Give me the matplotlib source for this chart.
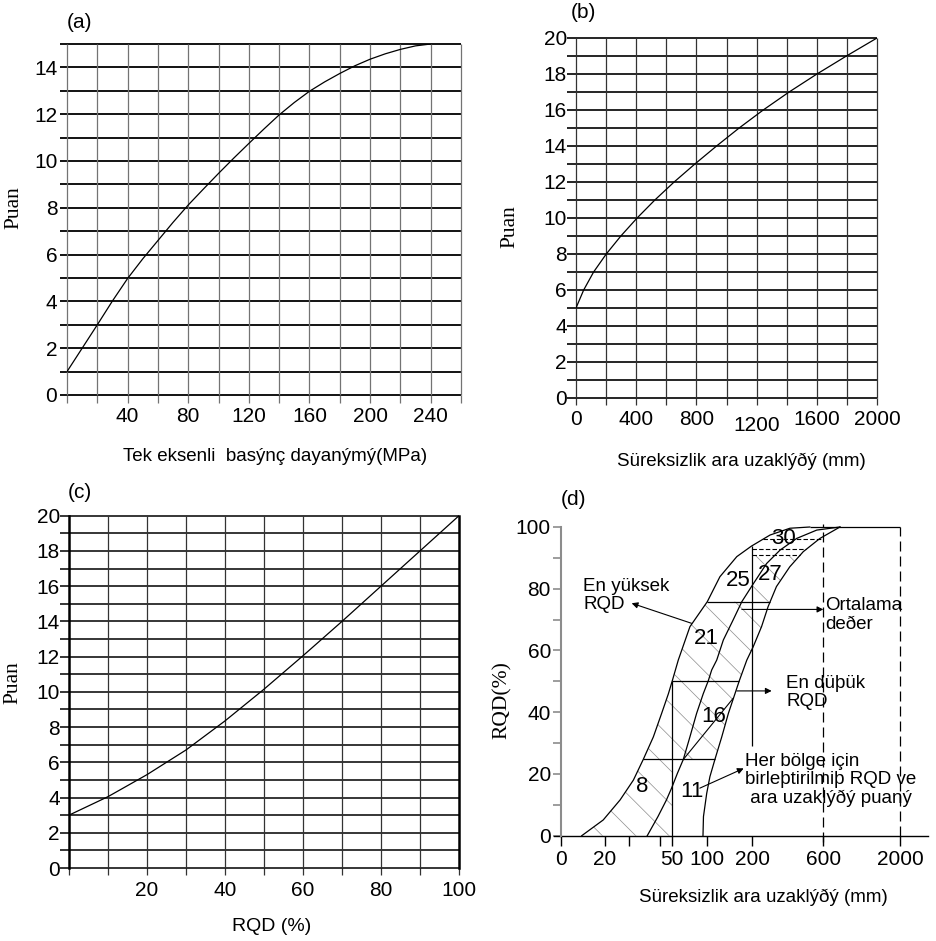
"""
RMR puan abaklari: (a) UCS, (b) sureksizlik ara uzakligi, (c) RQD, (d) RQD + ara uzaklik
"""
import numpy as np
import matplotlib
matplotlib.use('Agg')
import matplotlib.pyplot as plt
from matplotlib.transforms import ScaledTranslation

plt.rcParams['font.family'] = ['Liberation Sans', 'DejaVu Sans']
plt.rcParams['font.size'] = 15
plt.rcParams['hatch.linewidth'] = 0.5

# (a) tek eksenli basinc dayanimi -> puan
ucs_mpa = [0, 10, 20, 30, 40, 50, 60, 70, 80, 90, 100, 110, 120,
           130, 140, 150, 160, 170, 180, 190, 200, 210, 220, 230, 240]
ucs_puan = [1, 2, 3, 4.02, 4.98, 5.82, 6.6, 7.38, 8.12, 8.8, 9.47, 10.12, 10.75,
            11.37, 11.97, 12.5, 12.98, 13.38, 13.74, 14.07, 14.35, 14.58, 14.77, 14.92, 15]

# (b) sureksizlik ara uzakligi -> puan
spacing_mm = [0, 51, 117, 201, 298, 406, 524, 652, 790, 934, 1084, 1244, 1416, 1601, 1797, 2000]
spacing_puan = [5, 6, 7, 8, 9, 10, 11, 12, 13, 14, 15, 16, 17, 18, 19, 20]

# (c) RQD -> puan
rqd_pct = [0, 10, 20, 30, 40, 50, 60, 70, 80, 90, 100]
rqd_puan = [3, 4.05, 5.3, 6.7, 8.35, 10.15, 12.05, 14, 16, 18, 20]

# (d) en yuksek / ortalama / en dusuk RQD egrileri (mm, %)
hi_mm = [9.5, 19.2, 26.3, 32.3, 37.5, 42.2, 45.6, 48.4, 50, 58.7, 75.6, 101.3, 129, 166, 198, 300, 412, 524]
hi_rqd = [0, 5.1, 11.6, 18, 24.7, 32, 39.6, 46, 50.2, 56.9, 67.7, 75.8, 83.9, 90.4, 93.8, 97.4, 99.6, 100]
avg_mm = [39.6, 44.1, 47.6, 49.7, 57.4, 66, 75.6, 85.3, 95, 103.5, 111, 122, 136.5,
          158, 177, 201, 281, 356, 450, 563, 904]
avg_rqd = [0, 6.2, 11.6, 15.4, 20.2, 24.7, 32, 39.6, 46, 50.2, 53.7, 56.9, 63.4,
           69.9, 75.8, 81.2, 88.2, 92.5, 96.3, 99, 100]
lo_mm = [94.6, 95.3, 100, 107, 118, 133, 147.5, 162, 171.5, 188, 205, 252, 289, 336, 411, 487, 581, 904]
lo_rqd = [0, 6.2, 13.7, 19.1, 24.7, 32, 39.6, 46, 50.2, 56.9, 61.2, 67.7, 74.2, 80.7, 87.1, 92, 96.3, 100]

band_rqd = [24.7, 50.2, 75.8]          # bolge sinirlari
dash_rqd = [96.1, 92.8, 90.9]          # ust bolgedeki kesikli cizgiler

region_txt = ['8', '11', '16', '21', '25', '27', '30']
region_mm = [36.7, 78, 114.5, 100, 169, 300, 375]
region_rqd = [15.9, 14.3, 38.5, 64, 82.8, 84.5, 96.3]

# (d) x ekseni bozuk olcekli: mm -> eksen konumu
d_mm = [0, 20, 30, 40, 50, 100, 200, 600, 2000, 3000]
d_pos = [0, 44.3, 68.3, 87.3, 111.6, 146, 191.6, 262.6, 339.3, 367.3]

W, H = 936, 941


def box(l, t, r, b):
    return [l / W, 1 - b / H, (r - l) / W, (b - t) / H]


def fwd(v):
    return np.interp(v, d_mm, d_pos)


def inv(p):
    return np.interp(p, d_pos, d_mm)


def x_at(mm, rqd, r):
    return inv(np.interp(r, rqd, fwd(np.asarray(mm, float))))


def seg(mm, rqd, r0, r1):
    mm = np.asarray(mm, float)
    rqd = np.asarray(rqd, float)
    m = (rqd > r0) & (rqd < r1)
    xs = np.concatenate([[x_at(mm, rqd, r0)], mm[m], [x_at(mm, rqd, r1)]])
    ys = np.concatenate([[r0], rqd[m], [r1]])
    return xs, ys


def clean(ax):
    for s in ax.spines.values():
        s.set_visible(False)


fig = plt.figure(figsize=(W / 100, H / 100), dpi=100)
serif = dict(family='Liberation Serif', fontsize=15.5)

# ---------- (a)
ax = fig.add_axes(box(67, 44, 461, 395))
clean(ax)
ax.set_xlim(0, 260)
ax.set_ylim(0, 15)
ax.hlines(np.arange(16), 0, 260, color='k', lw=1.3, clip_on=False)
ax.vlines(np.arange(0, 261, 20), 0, 15, color='0.45', lw=0.9, clip_on=False)
ax.plot(ucs_mpa, ucs_puan, color='k', lw=0.9)
ax.set_xticks(np.arange(40, 241, 40))
ax.set_xticks(np.arange(0, 261, 20), minor=True)
ax.set_yticks(np.arange(0, 15, 2))
ax.set_yticks(np.arange(16), minor=True)
ax.tick_params(axis='y', which='both', length=5, width=1.3, color='k', pad=2)
ax.tick_params(axis='x', which='both', length=6, width=0.9, color='0.45', pad=3)
ax.set_ylabel('Puan', **serif)
ax.yaxis.set_label_coords(-0.11, 0.533)
ax.set_xlabel('Tek eksenli  basýnç dayanýmý(MPa)', fontsize=13.5)
ax.xaxis.set_label_coords(0.528, -0.151)
fig.text(80 / W, 1 - 23 / H, '(a)', ha='center', va='center')

# ---------- (b)
ax = fig.add_axes(box(576, 38, 877, 398))
clean(ax)
ax.set_xlim(0, 2000)
ax.set_ylim(0, 20)
ax.hlines(np.arange(21), 0, 2000, color='k', lw=1.2, clip_on=False)
ax.vlines(np.arange(0, 2001, 200), 0, 20, color='0.2', lw=0.9, clip_on=False)
ax.plot(spacing_mm, spacing_puan, color='k', lw=0.9)
ax.set_xticks(np.arange(0, 2001, 400))
ax.set_xticks(np.arange(0, 2001, 200), minor=True)
ax.set_yticks(np.arange(0, 21, 2))
ax.set_yticks(np.arange(21), minor=True)
ax.tick_params(axis='y', which='both', length=6.5, width=1.2, color='k', pad=0)
ax.tick_params(axis='x', which='both', length=5, width=0.9, color='0.2', pad=4)
for lbl in ax.get_xticklabels():
    if lbl.get_text() == '1200':
        lbl.set_transform(lbl.get_transform() + ScaledTranslation(0, -4 / 72, fig.dpi_scale_trans))
ax.set_ylabel('Puan', **serif)
ax.yaxis.set_label_coords(-0.189, 0.475)
ax.set_xlabel('Süreksizlik ara uzaklýðý (mm)', fontsize=13.5)
ax.xaxis.set_label_coords(0.548, -0.153)
fig.text(583 / W, 1 - 13 / H, '(b)', ha='center', va='center')

# ---------- (c)
ax = fig.add_axes(box(69, 515.7, 459, 868))
clean(ax)
for side in ['left', 'right']:
    ax.spines[side].set_visible(True)
    ax.spines[side].set_linewidth(1.8)
ax.set_xlim(0, 100)
ax.set_ylim(0, 20)
ax.hlines(np.arange(21), 0, 100, color='k', lw=1.1, clip_on=False)
ax.vlines(np.arange(10, 100, 10), 0, 20, color='0.2', lw=0.9)
ax.plot(rqd_pct, rqd_puan, color='k', lw=0.9)
ax.set_xticks(np.arange(20, 101, 20))
ax.set_xticks(np.arange(0, 101, 10), minor=True)
ax.set_yticks(np.arange(0, 21, 2))
ax.set_yticks(np.arange(21), minor=True)
ax.tick_params(axis='y', which='both', length=6.5, width=1.1, color='k', pad=0)
ax.tick_params(axis='x', which='both', length=5, width=0.9, color='0.2', pad=4)
ax.set_ylabel('Puan', **serif)
ax.yaxis.set_label_coords(-0.12, 0.525)
ax.set_xlabel('RQD (%)', fontsize=14)
ax.xaxis.set_label_coords(0.52, -0.142)
fig.text(80 / W, 1 - 492 / H, '(c)', ha='center', va='center')

# ---------- (d)
ax = fig.add_axes(box(560.7, 527, 928, 835.7))
ax.set_xscale('function', functions=(fwd, inv))
ax.set_xlim(0, 3000)
ax.set_ylim(0, 100)
clean(ax)
ax.spines['left'].set_visible(True)
ax.spines['left'].set_color('0.55')
ax.spines['left'].set_linewidth(1.5)
ax.axhline(0, xmin=-0.017, xmax=1, color='k', lw=1.0, clip_on=False)

r25, r50, r75 = band_rqd
top200 = np.interp(fwd(200), fwd(np.asarray(hi_mm)), hi_rqd)

# taranmis bolgeler
hatch_kw = dict(facecolor='none', edgecolor='0.55', hatch='\\', linewidth=0)
xs, ys = seg(hi_mm, hi_rqd, 0, r25)
ax.fill(np.r_[xs, 50, 50], np.r_[ys, r25, 0], **hatch_kw)
xs, ys = seg(hi_mm, hi_rqd, r25, r75)
xr, yr = seg(lo_mm, lo_rqd, r25, r75)
ax.fill(np.r_[xs, xr[::-1]], np.r_[ys, yr[::-1]], **hatch_kw)
xr, yr = seg(lo_mm, lo_rqd, r75, dash_rqd[2])
ax.fill(np.r_[200, xr[::-1], 200], np.r_[dash_rqd[2], yr[::-1], r75], **hatch_kw)

for mm, r in [(hi_mm, hi_rqd), (avg_mm, avg_rqd), (lo_mm, lo_rqd)]:
    ax.plot(mm, r, color='k', lw=0.9, clip_on=False)

ax.hlines(100, hi_mm[-1], 2000, color='k', lw=0.9, clip_on=False)
ax.hlines(r25, x_at(hi_mm, hi_rqd, r25), x_at(lo_mm, lo_rqd, r25), color='k', lw=0.9)
ax.hlines(r50, 50, x_at(lo_mm, lo_rqd, r50), color='k', lw=0.9)
ax.hlines(r75, x_at(hi_mm, hi_rqd, r75), x_at(lo_mm, lo_rqd, r75), color='k', lw=0.9)
ax.vlines(50, 0, r50, color='k', lw=0.9)
ax.vlines(200, 29, top200, color='k', lw=0.9)
ax.vlines(600, -2, 101, color='k', lw=0.9, linestyles=(0, (8, 4)), clip_on=False)
ax.vlines(2000, 0, 100, color='k', lw=0.9, linestyles=(0, (8, 4)))
dash_kw = dict(color='k', lw=0.8, linestyles=(0, (4, 2)))
ax.hlines(dash_rqd[0], x_at(hi_mm, hi_rqd, dash_rqd[0]), 600, **dash_kw)
ax.hlines(dash_rqd[1], 200, x_at(lo_mm, lo_rqd, dash_rqd[1]), **dash_kw)
ax.hlines(dash_rqd[2], 200, x_at(lo_mm, lo_rqd, dash_rqd[2]), **dash_kw)
ax.plot([66, 158], [24.7, 44.5], color='k', lw=0.8)

arr = dict(arrowstyle='-|>', color='k', lw=0.8, mutation_scale=9, shrinkA=0, shrinkB=0)
ax.annotate('', xy=(31.4, 75.3), xytext=(78, 68.8), arrowprops=arr)
ax.annotate('', xy=(600, 73.3), xytext=(177, 73.3), arrowprops=arr)
ax.annotate('', xy=(309, 46.9), xytext=(166, 46.9), arrowprops=arr)
ax.annotate('', xy=(181, 21.8), xytext=(90, 15.4), arrowprops=arr)

txt = dict(ha='left', va='center', linespacing=1.1, fontsize=13.5)
ax.text(10.2, 77.8, 'En yüksek\nRQD', **txt)
ax.text(631, 71.5, 'Ortalama\ndeðer', **txt)
ax.text(390, 46.4, 'En düþük\nRQD', **txt)
ax.text(184, 18, 'Her bölge için\nbirleþtirilmiþ RQD ve\n ara uzaklýðý puaný', **txt)
for t, mm, r in zip(region_txt, region_mm, region_rqd):
    ax.text(mm, r, t, ha='center', va='center', fontsize=16)

ax.set_xticks([0, 20, 50, 100, 200, 600, 2000])
ax.set_xticklabels(['0', '20', '50', '100', '200', '600', '2000'])
ax.set_xticks([30, 45], minor=True)
ax.set_yticks(np.arange(0, 101, 20))
ax.set_yticks(np.arange(0, 101, 10), minor=True)
ax.tick_params(axis='x', which='both', length=7, width=1.0, color='k', pad=3)
ax.tick_params(axis='y', which='both', length=6, width=1.2, color='0.55', pad=1)
ax.set_ylabel('RQD(%)', **serif)
ax.yaxis.set_label_coords(-0.133, 0.44)
ax.set_xlabel('Süreksizlik ara uzaklýðý (mm)', fontsize=13.5)
ax.xaxis.set_label_coords(0.551, -0.173)
fig.text(573 / W, 1 - 500 / H, '(d)', ha='center', va='center')

fig.savefig('out.png', dpi=100)
